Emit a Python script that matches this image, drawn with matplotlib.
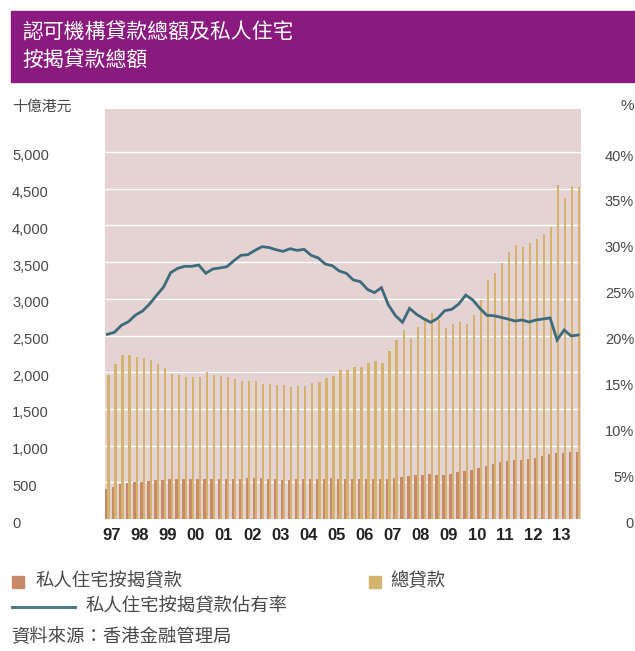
import matplotlib
matplotlib.use("Agg")
import matplotlib.pyplot as plt
import matplotlib.transforms as mtransforms
from matplotlib.patches import Rectangle
from matplotlib.lines import Line2D
import numpy as np

# ---------------- data ----------------
years = ["97", "98", "99", "00", "01", "02", "03", "04", "05", "06",
         "07", "08", "09", "10", "11", "12", "13"]

# total loans (HK$ bn), quarterly 1997Q1 - 2013Q4
total_loans = [1962, 2112, 2234, 2230, 2203, 2198, 2162, 2112, 2057, 1980,
               1958, 1935, 1935, 1935, 2003, 1966, 1948, 1939, 1907, 1884,
               1880, 1876, 1843, 1839, 1826, 1821, 1794, 1808, 1812, 1849,
               1862, 1921, 1952, 2030, 2030, 2071, 2067, 2121, 2153, 2121,
               2289, 2434, 2570, 2452, 2611, 2711, 2802, 2711, 2606, 2652,
               2688, 2652, 2779, 2984, 3256, 3356, 3483, 3638, 3729, 3706,
               3756, 3815, 3879, 3974, 4550, 4373, 4537, 4519]

# private residential mortgage loans (HK$ bn)
mortgage_loans = [409, 440, 481, 495, 504, 509, 522, 527, 536, 540,
                  545, 545, 545, 545, 545, 545, 545, 545, 545, 549,
                  552, 559, 554, 549, 545, 536, 536, 540, 540, 540,
                  545, 549, 554, 549, 545, 540, 540, 540, 540, 545,
                  545, 559, 572, 581, 595, 604, 609, 599, 606, 613,
                  636, 649, 668, 690, 727, 749, 772, 795, 804, 808,
                  817, 836, 858, 881, 895, 904, 908, 913]

# share of private residential mortgage loans (%)
mortgage_share = [20.13, 20.35, 21.11, 21.51, 22.23, 22.67, 23.43, 24.38, 25.29, 26.85,
                  27.32, 27.54, 27.54, 27.68, 26.78, 27.25, 27.36, 27.50, 28.15, 28.74,
                  28.81, 29.28, 29.68, 29.59, 29.35, 29.17, 29.46, 29.28, 29.39, 28.74,
                  28.45, 27.79, 27.61, 27.03, 26.78, 26.05, 25.87, 25.03, 24.67, 25.21,
                  23.32, 22.16, 21.44, 22.96, 22.31, 21.83, 21.44, 21.87, 22.70, 22.85,
                  23.43, 24.41, 23.87, 22.96, 22.20, 22.16, 21.98, 21.80, 21.58, 21.69,
                  21.47, 21.69, 21.80, 21.91, 19.51, 20.60, 19.95, 20.05]

left_ticks = [0, 500, 1000, 1500, 2000, 2500, 3000, 3500, 4000, 4500, 5000]
left_labels = ["0", "500", "1,000", "1,500", "2,000", "2,500", "3,000",
               "3,500", "4,000", "4,500", "5,000"]
right_ticks = [0, 5, 10, 15, 20, 25, 30, 35, 40]
right_labels = ["0", "5%", "10%", "15%", "20%", "25%", "30%", "35%", "40%"]

title_lines = ["認可機構貸款總額及私人住宅", "按揭貸款總額"]
left_unit = "十億港元"
right_unit = "%"
legend_labels = ["私人住宅按揭貸款", "總貸款", "私人住宅按揭貸款佔有率"]
source_text = "資料來源：香港金融管理局"

# ---------------- style ----------------
W, H = 635, 651
DPI = 100
BG = "#E4D3D2"
GOLD = "#D3B46F"
ORANGE = "#C98A6C"
LINE = "#3E6B7C"
PURPLE = "#8B1A7E"
TXT = "#484848"
CJK = ["Noto Sans CJK TC", "DejaVu Sans"]
NUM = ["Liberation Sans", "DejaVu Sans"]
NARROW = ["Liberation Sans Narrow", "Liberation Sans", "DejaVu Sans"]

fig = plt.figure(figsize=(W / DPI, H / DPI), dpi=DPI)
fig.patch.set_facecolor("white")

def fx(px):
    return px / W

def fy(py):
    return 1 - py / H

ax_l, ax_r, ax_t, ax_b = 105.3, 580.7, 109, 519
ax = fig.add_axes([fx(ax_l), fy(ax_b), fx(ax_r - ax_l), (ax_b - ax_t) / H])
ax.set_facecolor(BG)
for s in ax.spines.values():
    s.set_visible(False)

n = len(total_loans)
x = np.arange(n)
bw = 0.33
ax.bar(x, mortgage_loans, width=-bw, align="edge", color=ORANGE, zorder=3, linewidth=0)
ax.bar(x, total_loans, width=bw, align="edge", color=GOLD, zorder=3, linewidth=0)

ymax = (ax_b - ax_t) / (ax_b - 152) * 5000
ax.set_ylim(0, ymax)
ax.set_xlim(-0.3, 67.36)

for v in left_ticks[1:]:
    ax.axhline(v, color="white", lw=1.0, zorder=2)

ax.set_yticks(left_ticks)
ax.set_yticklabels(left_labels)
ax.tick_params(axis="y", length=0, pad=(ax_l - 12) * 72 / DPI, labelsize=10.5, labelcolor=TXT)
off = mtransforms.ScaledTranslation(0, -3 / DPI, fig.dpi_scale_trans)
for lab in ax.get_yticklabels():
    lab.set_horizontalalignment("left")
    lab.set_fontfamily(NUM)
    lab.set_transform(lab.get_transform() + off)

ax.set_xticks([4 * k + 0.6 for k in range(len(years))])
ax.set_xticklabels(years)
ax.tick_params(axis="x", length=0, pad=6.5, labelsize=12, labelcolor="#222222")
for lab in ax.get_xticklabels():
    lab.set_fontfamily(NARROW)
    lab.set_fontweight("bold")

ax2 = ax.twinx()
for s in ax2.spines.values():
    s.set_visible(False)
ax2.plot(x, mortgage_share, color=LINE, lw=2.0, zorder=5, solid_joinstyle="miter")
ax2.set_ylim(0, ymax / 5000 * 40)
ax2.set_yticks(right_ticks)
ax2.set_yticklabels(right_labels)
ax2.tick_params(axis="y", length=0, pad=(634 - ax_r) * 72 / DPI, labelsize=10.5, labelcolor=TXT)
for lab in ax2.get_yticklabels():
    lab.set_horizontalalignment("right")
    lab.set_fontfamily(NUM)
    lab.set_transform(lab.get_transform() + off)

# ---------------- header ----------------
fig.patches.append(Rectangle((fx(11), fy(82)), fx(W - 11), (82 - 11) / H,
                             transform=fig.transFigure, color=PURPLE, zorder=0))
fig.text(fx(22), fy(31.5), title_lines[0], color="white", fontsize=15,
         family=CJK, va="center", ha="left")
fig.text(fx(22), fy(60), title_lines[1], color="white", fontsize=15,
         family=CJK, va="center", ha="left")

fig.text(fx(12), fy(106.5), left_unit, color=TXT, fontsize=10.7, family=CJK,
         va="center", ha="left")
fig.text(fx(634), fy(106.5), right_unit, color=TXT, fontsize=11, family=NUM,
         va="center", ha="right")

# ---------------- legend ----------------
fig.patches.append(Rectangle((fx(12), fy(588)), fx(12), 12 / H,
                             transform=fig.transFigure, color=ORANGE))
fig.text(fx(36), fy(581.5), legend_labels[0], color=TXT, fontsize=13.2,
         family=CJK, va="center", ha="left")
fig.patches.append(Rectangle((fx(369), fy(588)), fx(12), 12 / H,
                             transform=fig.transFigure, color=GOLD))
fig.text(fx(390), fy(581.5), legend_labels[1], color=TXT, fontsize=13.2,
         family=CJK, va="center", ha="left")
fig.lines.append(Line2D([fx(12), fx(75)], [fy(606.5), fy(606.5)],
                        transform=fig.transFigure, color="#4F7889", lw=2.2))
fig.text(fx(86), fy(606), legend_labels[2], color=TXT, fontsize=13.2,
         family=CJK, va="center", ha="left")

fig.text(fx(11), fy(637.5), source_text, color=TXT, fontsize=13.2,
         family=CJK, va="center", ha="left")

fig.savefig("out.png", dpi=DPI, facecolor="white")
